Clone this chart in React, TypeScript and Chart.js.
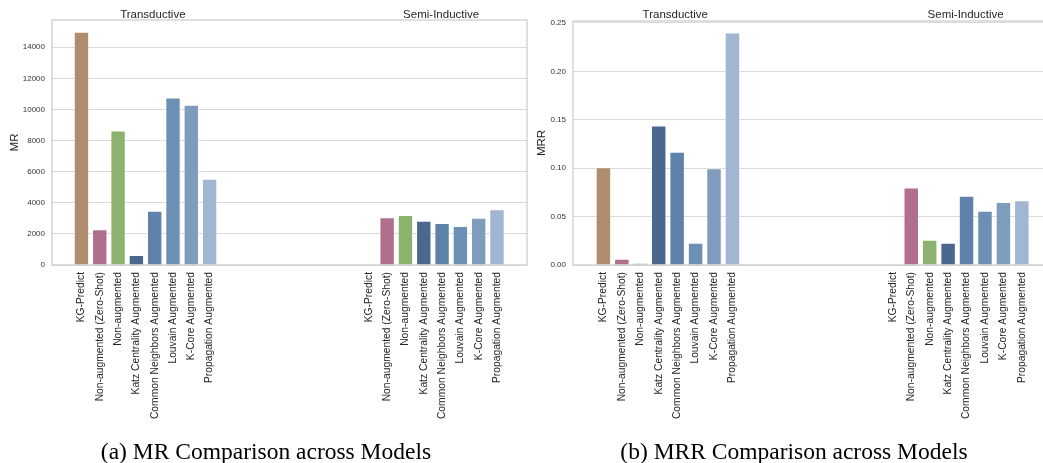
import React, { useEffect, useRef } from "react";
import { Chart, registerables } from "chart.js";
Chart.register(...registerables);

// ---------- data ----------
const models = [
  "KG-Predict",
  "Non-augmented (Zero-Shot)",
  "Non-augmented",
  "Katz Centrality Augmented",
  "Common Neighbors Augmented",
  "Louvain Augmented",
  "K-Core Augmented",
  "Propagation Augmented",
];
const groups = ["Transductive", "Semi-Inductive"];
const semiGroupOffset = 15.7;
const groupTitlePositions = [3.9, 19.65];

const mrTransductive = [15000, 2300, 8640, 650, 3480, 10760, 10300, 5540];
const mrSemiInductive = [null, 3070, 3220, 2850, 2700, 2510, 3030, 3590];
const mrrTransductive = [0.101, 0.0065, 0.002, 0.144, 0.117, 0.023, 0.1, 0.24];
const mrrSemiInductive = [null, 0.08, 0.026, 0.023, 0.0715, 0.056, 0.065, 0.067];

const mrTicks = [0, 2000, 4000, 6000, 8000, 10000, 12000, 14000];
const mrrTicks = [0, 0.05, 0.1, 0.15, 0.2, 0.25];

const modelColors = [
  "#b08d6e",
  "#b06f8d",
  "#8db26e",
  "#4a688e",
  "#5e82aa",
  "#6c8fb4",
  "#809cbd",
  "#a1b6d0",
];

const FONT = '"Liberation Sans", Arial, "DejaVu Sans", sans-serif';

const transPositions = models.map((_, i) => i);
const semiPositions = models.map((_, i) => i + semiGroupOffset);
const allPositions = [...transPositions, ...semiPositions];
const allLabels = [...models, ...models];
const allColors = [...modelColors, ...modelColors];

const CANVAS_H = 440;
const PLOT_BOTTOM = 265;

const framePlugin = {
  id: "frame",
  beforeDatasetsDraw(chart: any) {
    const { ctx, chartArea: a } = chart;
    ctx.save();
    ctx.strokeStyle = "#cccccc";
    ctx.lineWidth = 1.25;
    ctx.strokeRect(a.left, a.top, a.right - a.left, a.bottom - a.top);
    ctx.restore();
  },
  afterDraw(chart: any) {
    const { ctx, scales } = chart;
    ctx.save();
    ctx.fillStyle = "#262626";
    ctx.font = `11.5px ${FONT}`;
    ctx.textAlign = "center";
    ctx.textBaseline = "alphabetic";
    groups.forEach((g, i) => {
      ctx.fillText(g, scales.x.getPixelForValue(groupTitlePositions[i]), 18);
    });
    ctx.restore();
  },
};

type PanelProps = {
  trans: (number | null)[];
  semi: (number | null)[];
  yMax: number;
  yTicks: number[];
  yTitle: string;
  yWidth: number;
  titlePad: number;
  xMin: number;
  xMax: number;
  padTop: number;
  padRight: number;
  width: number;
  fmt: (v: number) => string;
};

function Panel(p: PanelProps) {
  const ref = useRef<HTMLCanvasElement>(null);
  useEffect(() => {
    const values = [...p.trans, ...p.semi];
    const data = allPositions.map((x, i) => ({ x, y: values[i] }));
    const chart = new Chart(ref.current!, {
      type: "bar",
      data: {
        datasets: [
          {
            data: data as any,
            backgroundColor: allColors,
            borderColor: "rgba(255,255,255,0.45)",
            borderWidth: 1,
            barPercentage: 0.84,
            categoryPercentage: 1,
          },
        ],
      },
      options: {
        animation: false,
        responsive: false,
        maintainAspectRatio: false,
        layout: { padding: { top: p.padTop, right: p.padRight, left: 0, bottom: 0 } },
        plugins: { legend: { display: false }, tooltip: { enabled: false } },
        scales: {
          x: {
            type: "linear",
            offset: false,
            min: p.xMin,
            max: p.xMax,
            grid: { display: false, offset: false },
            border: { display: false },
            afterBuildTicks: (scale: any) => {
              scale.ticks = allPositions.map((v) => ({ value: v }));
            },
            afterFit: (scale: any) => {
              scale.height = CANVAS_H - PLOT_BOTTOM;
            },
            ticks: {
              autoSkip: false,
              minRotation: 90,
              maxRotation: 90,
              padding: -1,
              color: "#262626",
              font: { family: FONT, size: 10.3 },
              callback: (_v: any, i: number) => allLabels[i],
            },
          },
          y: {
            min: 0,
            max: p.yMax,
            border: { display: false },
            grid: { color: "#dadada", lineWidth: 1, drawTicks: false },
            afterBuildTicks: (scale: any) => {
              scale.ticks = p.yTicks.map((v) => ({ value: v }));
            },
            afterFit: (scale: any) => {
              scale.width = p.yWidth;
            },
            title: {
              display: true,
              text: p.yTitle,
              color: "#262626",
              font: { family: FONT, size: 11.5 },
              padding: { top: p.titlePad, bottom: 2 },
            },
            ticks: {
              padding: 7,
              color: "#333333",
              font: { family: FONT, size: 8 },
              callback: (v: any) => p.fmt(Number(v)),
            },
          },
        },
      },
      plugins: [framePlugin],
    });
    return () => chart.destroy();
  }, []);
  return <canvas ref={ref} width={p.width} height={CANVAS_H} />;
}

const captionStyle: React.CSSProperties = {
  position: "absolute",
  top: 438,
  fontFamily: '"Liberation Serif", "Times New Roman", serif',
  fontSize: 23.5,
  lineHeight: "26px",
  color: "#000",
  textAlign: "center",
  whiteSpace: "nowrap",
};

export default function App() {
  return (
    <div
      style={{
        position: "absolute",
        left: 0,
        top: 0,
        width: 1043,
        height: 463,
        overflow: "hidden",
        background: "#fff",
      }}
    >
      <div style={{ position: "absolute", left: 0, top: 0, width: 530, height: CANVAS_H }}>
        <Panel
          trans={mrTransductive}
          semi={mrSemiInductive}
          yMax={15750}
          yTicks={mrTicks}
          yTitle="MR"
          yWidth={52}
          titlePad={8}
          xMin={-1.61}
          xMax={24.34}
          padTop={20}
          padRight={3}
          width={530}
          fmt={(v) => String(v)}
        />
      </div>
      <div style={{ position: "absolute", left: 530, top: 0, width: 523, height: CANVAS_H }}>
        <Panel
          trans={mrrTransductive}
          semi={mrrSemiInductive}
          yMax={0.252}
          yTicks={mrrTicks}
          yTitle="MRR"
          yWidth={43}
          titlePad={5}
          xMin={-1.65}
          xMax={24.39}
          padTop={21}
          padRight={0}
          width={523}
          fmt={(v) => v.toFixed(2)}
        />
      </div>
      <div style={{ ...captionStyle, left: 0, width: 532 }}>(a) MR Comparison across Models</div>
      <div style={{ ...captionStyle, left: 545, width: 498 }}>(b) MRR Comparison across Models</div>
    </div>
  );
}
